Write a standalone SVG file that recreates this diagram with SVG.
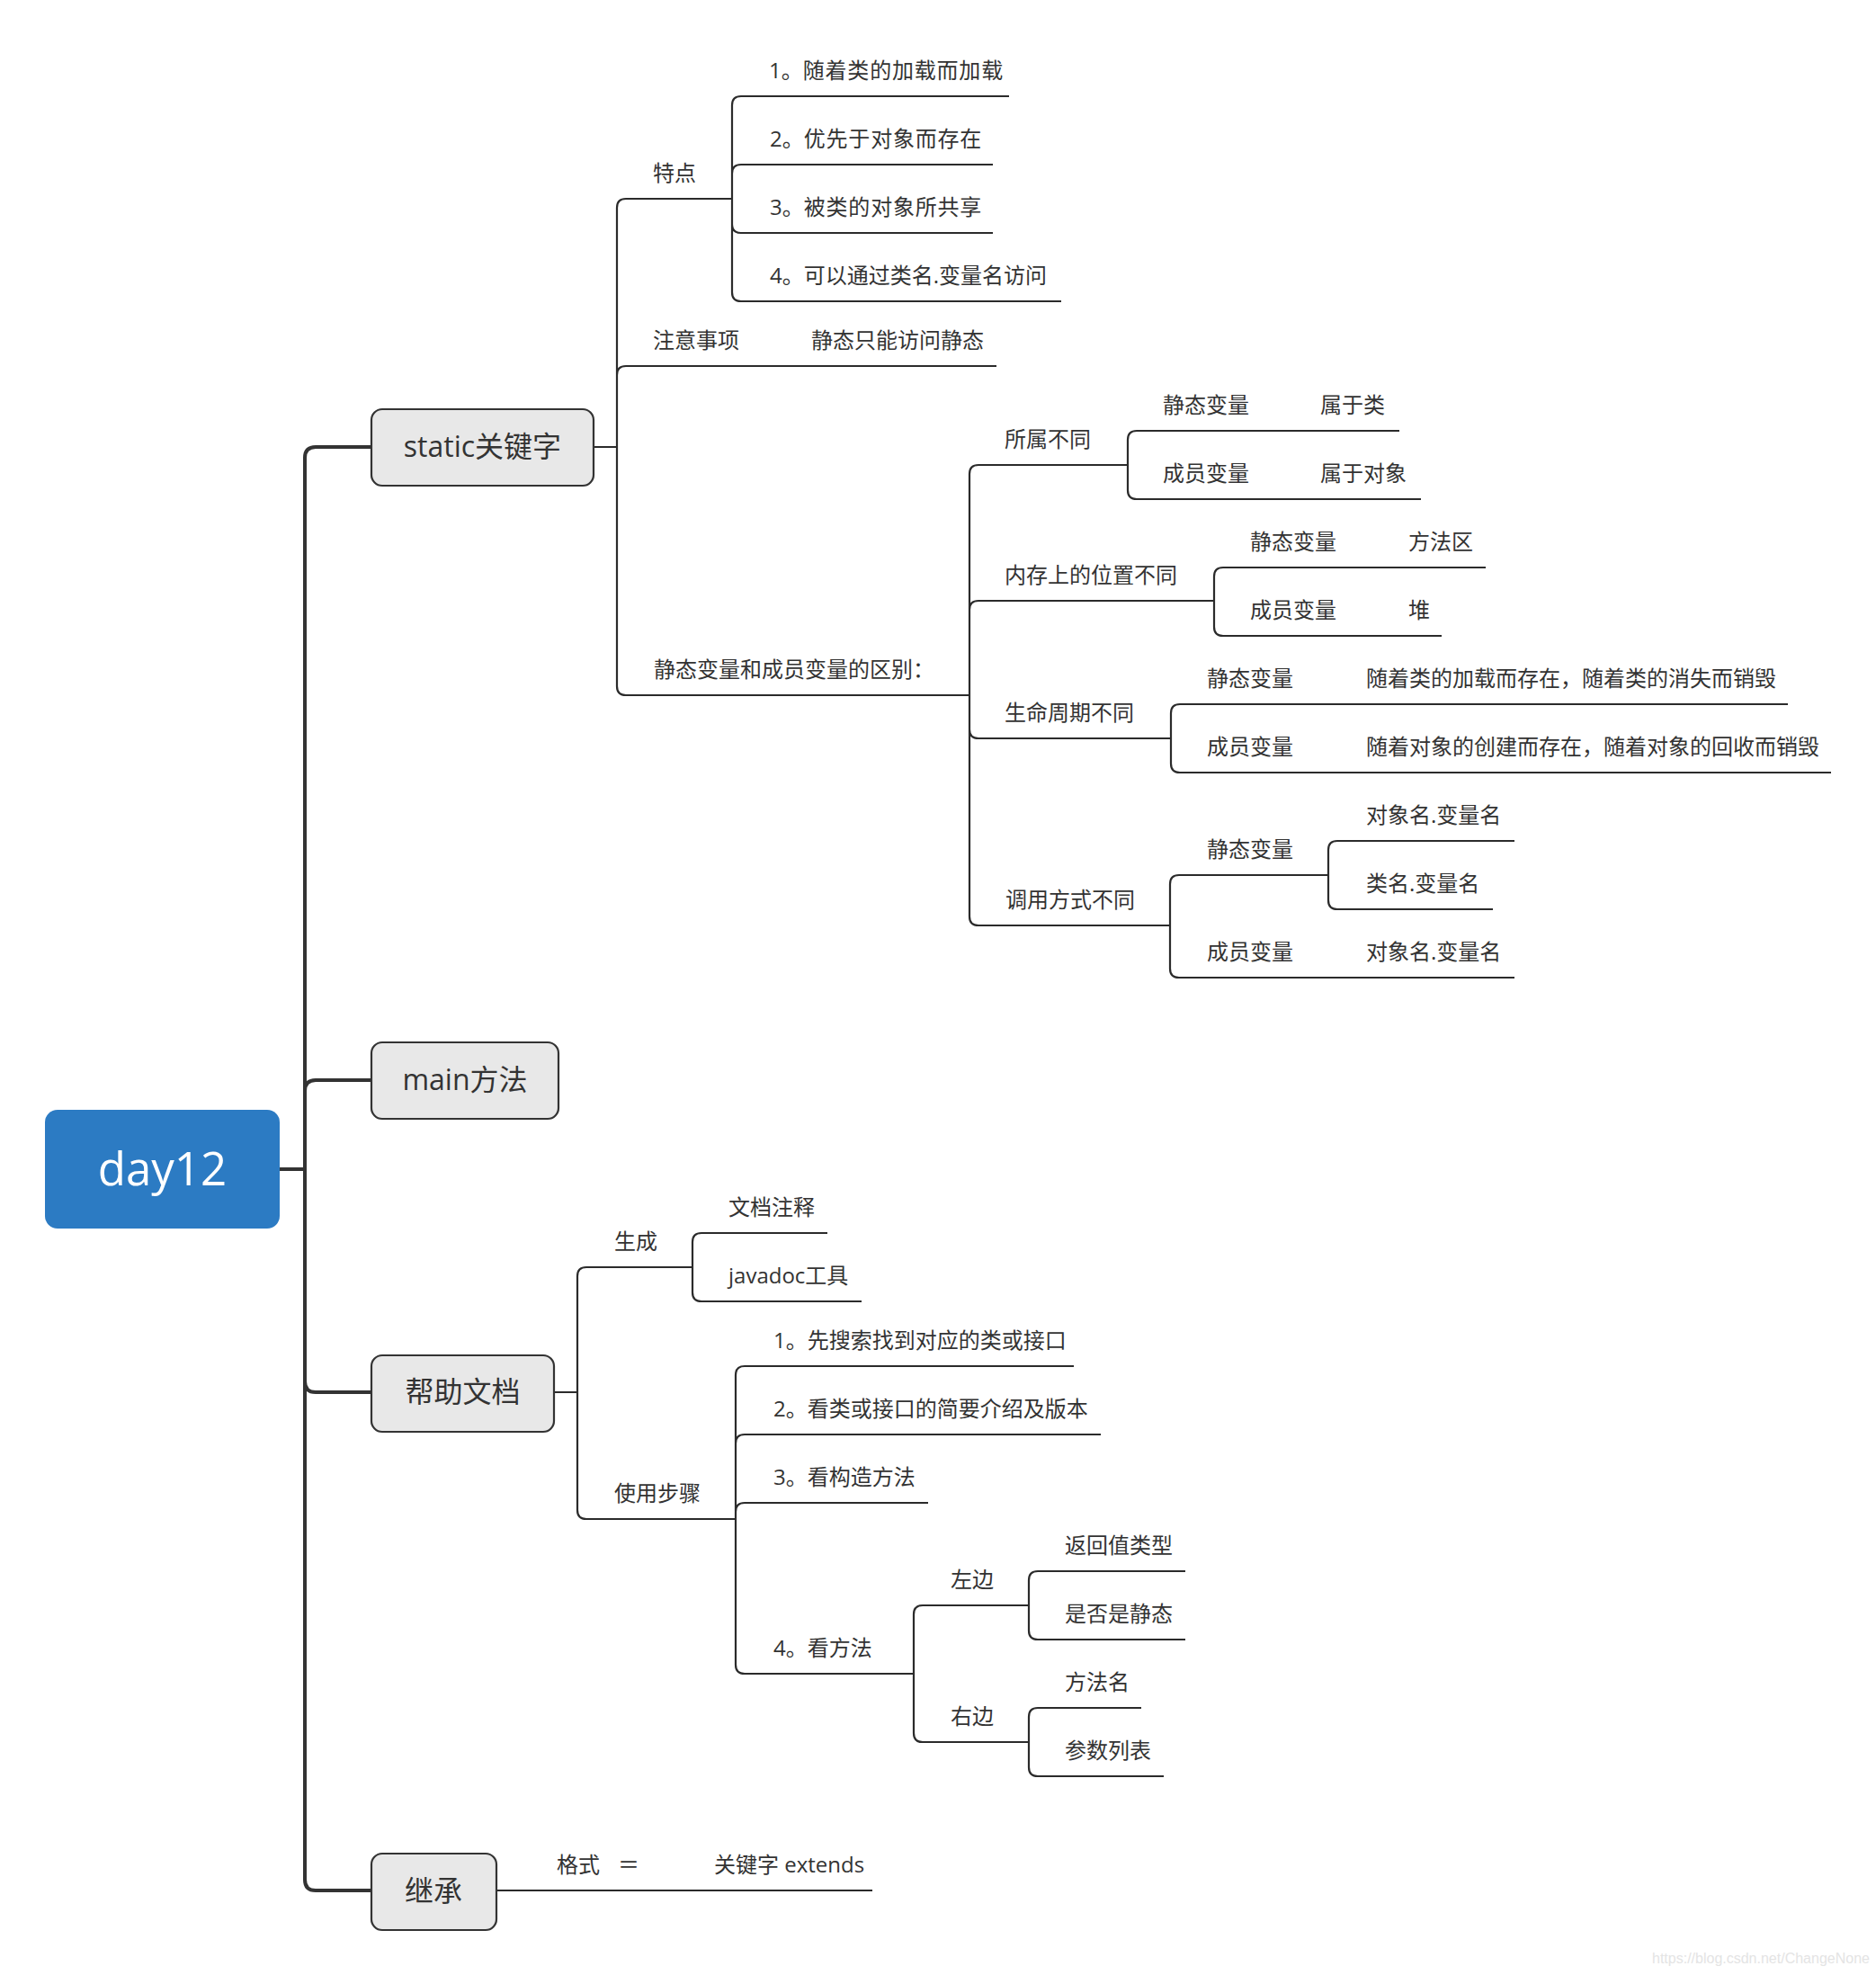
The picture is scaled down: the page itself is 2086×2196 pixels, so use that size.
<svg xmlns="http://www.w3.org/2000/svg" width="2086" height="2196" viewBox="0 0 2086 2196">
<style>
.main{fill:none;stroke:#333;stroke-width:4;stroke-linecap:butt}
.sub{fill:none;stroke:#2b2b2b;stroke-width:2.2}
.t{font-family:"Open Sans","Noto Sans CJK SC",sans-serif;font-size:24px;fill:#333}
.wide{letter-spacing:0.8px}
.box{fill:#e8e8e8;stroke:#333;stroke-width:2.2}
.bt{font-family:"Open Sans","Noto Sans CJK SC",sans-serif;font-size:32px;fill:#333;text-anchor:middle}
</style>
<rect width="2086" height="2196" fill="#fff"/>
<g id="connectors">
<path class="main" d="M311 1300H339M339 1300V509Q339 497 351 497H413M339 1300V1213Q339 1201 351 1201H413M339 1300V1536Q339 1548 351 1548H413M339 1300V2090Q339 2102 351 2102H413"/>
<path class="sub" d="M660 497H686M686 497V231Q686 221 696 221H814M686 497V417Q686 407 696 407H1108M686 497V763Q686 773 696 773H1078"/>
<path class="sub" d="M814 221V117Q814 107 824 107H1122M814 221V193Q814 183 824 183H1104M814 221V249Q814 259 824 259H1104M814 221V325Q814 335 824 335H1180"/>
<path class="sub" d="M1078 773V527Q1078 517 1088 517H1254M1078 773V678Q1078 668 1088 668H1350M1078 773V811Q1078 821 1088 821H1302M1078 773V1019Q1078 1029 1088 1029H1301"/>
<path class="sub" d="M1254 517V489Q1254 479 1264 479H1556M1254 517V545Q1254 555 1264 555H1580"/>
<path class="sub" d="M1350 668V641Q1350 631 1360 631H1652M1350 668V697Q1350 707 1360 707H1603"/>
<path class="sub" d="M1302 821V793Q1302 783 1312 783H1988M1302 821V849Q1302 859 1312 859H2036"/>
<path class="sub" d="M1301 1029V983Q1301 973 1311 973H1477M1301 1029V1077Q1301 1087 1311 1087H1684"/>
<path class="sub" d="M1477 973V945Q1477 935 1487 935H1684M1477 973V1001Q1477 1011 1487 1011H1660"/>
<path class="sub" d="M616 1548H642M642 1548V1419Q642 1409 652 1409H770M642 1548V1679Q642 1689 652 1689H818"/>
<path class="sub" d="M770 1409V1381Q770 1371 780 1371H920M770 1409V1437Q770 1447 780 1447H958"/>
<path class="sub" d="M818 1689V1529Q818 1519 828 1519H1194M818 1689V1605Q818 1595 828 1595H1224M818 1689V1681Q818 1671 828 1671H1032M818 1689V1851Q818 1861 828 1861H1016"/>
<path class="sub" d="M1016 1861V1795Q1016 1785 1026 1785H1144M1016 1861V1927Q1016 1937 1026 1937H1144"/>
<path class="sub" d="M1144 1785V1757Q1144 1747 1154 1747H1318M1144 1785V1813Q1144 1823 1154 1823H1318"/>
<path class="sub" d="M1144 1937V1909Q1144 1899 1154 1899H1269M1144 1937V1965Q1144 1975 1154 1975H1294"/>
<path class="sub" d="M552 2102H970"/>
</g>
<g id="root">
<rect x="50" y="1234" width="261" height="132" rx="14" fill="#2c7bc3"/>
<text x="180.5" y="1318" font-family="'Open Sans','Noto Sans',sans-serif" font-size="51" fill="#fff" text-anchor="middle">day12</text>
</g>
<g id="n-static">
<rect class="box" x="413" y="455" width="247" height="85" rx="12"/>
<text class="bt" x="536.5" y="508">static关键字</text>
</g>
<g id="n-main">
<rect class="box" x="413" y="1159" width="208" height="85" rx="12"/>
<text class="bt" x="517" y="1212">main方法</text>
</g>
<g id="n-help">
<rect class="box" x="413" y="1507" width="203" height="85" rx="12"/>
<text class="bt" x="514.5" y="1559">帮助文档</text>
</g>
<g id="n-inherit">
<rect class="box" x="413" y="2061" width="139" height="85" rx="12"/>
<text class="bt" x="482" y="2114">继承</text>
</g>
<g id="static-topics">
<text class="t" x="726" y="201">特点</text>
<text class="t" x="855" y="87">1。<tspan class="wide">随着类的加载而加载</tspan></text>
<text class="t" x="856" y="163">2。<tspan class="wide">优先于对象而存在</tspan></text>
<text class="t" x="856" y="239">3。<tspan class="wide">被类的对象所共享</tspan></text>
<text class="t" x="856" y="315">4。可以通过类名.变量名访问</text>
<text class="t" x="726" y="387">注意事项</text>
<text class="t" x="902" y="387">静态只能访问静态</text>
<text class="t" x="727" y="753">静态变量和成员变量的区别：</text>
<text class="t" x="1117" y="497">所属不同</text>
<text class="t" x="1293" y="459">静态变量</text>
<text class="t" x="1468" y="459">属于类</text>
<text class="t" x="1293" y="535">成员变量</text>
<text class="t" x="1468" y="535">属于对象</text>
<text class="t" x="1117" y="648">内存上的位置不同</text>
<text class="t" x="1390" y="611">静态变量</text>
<text class="t" x="1566" y="611">方法区</text>
<text class="t" x="1390" y="687">成员变量</text>
<text class="t" x="1566" y="687">堆</text>
<text class="t" x="1117" y="801">生命周期不同</text>
<text class="t" x="1342" y="763">静态变量</text>
<text class="t" x="1519" y="763">随着类的加载而存在，随着类的消失而销毁</text>
<text class="t" x="1342" y="839">成员变量</text>
<text class="t" x="1519" y="839">随着对象的创建而存在，随着对象的回收而销毁</text>
<text class="t" x="1118" y="1009">调用方式不同</text>
<text class="t" x="1342" y="953">静态变量</text>
<text class="t" x="1519" y="915">对象名.变量名</text>
<text class="t" x="1519" y="991">类名.变量名</text>
<text class="t" x="1342" y="1067">成员变量</text>
<text class="t" x="1519" y="1067">对象名.变量名</text>
</g>
<g id="help-topics">
<text class="t" x="683" y="1389">生成</text>
<text class="t" x="810" y="1351">文档注释</text>
<text class="t" x="810" y="1427">javadoc工具</text>
<text class="t" x="683" y="1669">使用步骤</text>
<text class="t" x="860" y="1499">1。先搜索找到对应的类或接口</text>
<text class="t" x="860" y="1575">2。看类或接口的简要介绍及版本</text>
<text class="t" x="860" y="1651">3。看构造方法</text>
<text class="t" x="860" y="1841">4。看方法</text>
<text class="t" x="1057" y="1765">左边</text>
<text class="t" x="1184" y="1727">返回值类型</text>
<text class="t" x="1184" y="1803">是否是静态</text>
<text class="t" x="1057" y="1917">右边</text>
<text class="t" x="1184" y="1879">方法名</text>
<text class="t" x="1184" y="1955">参数列表</text>
</g>
<g id="inherit-topics">
<text class="t" x="619" y="2082">格式<tspan x="687">＝</tspan></text>
<text class="t" x="794" y="2082">关键字 extends</text>
</g>
<text x="1837" y="2183" font-family="'Liberation Sans',Arial,sans-serif" font-size="16" fill="#e4e4e4">https://blog.csdn.net/ChangeNone</text>
</svg>
